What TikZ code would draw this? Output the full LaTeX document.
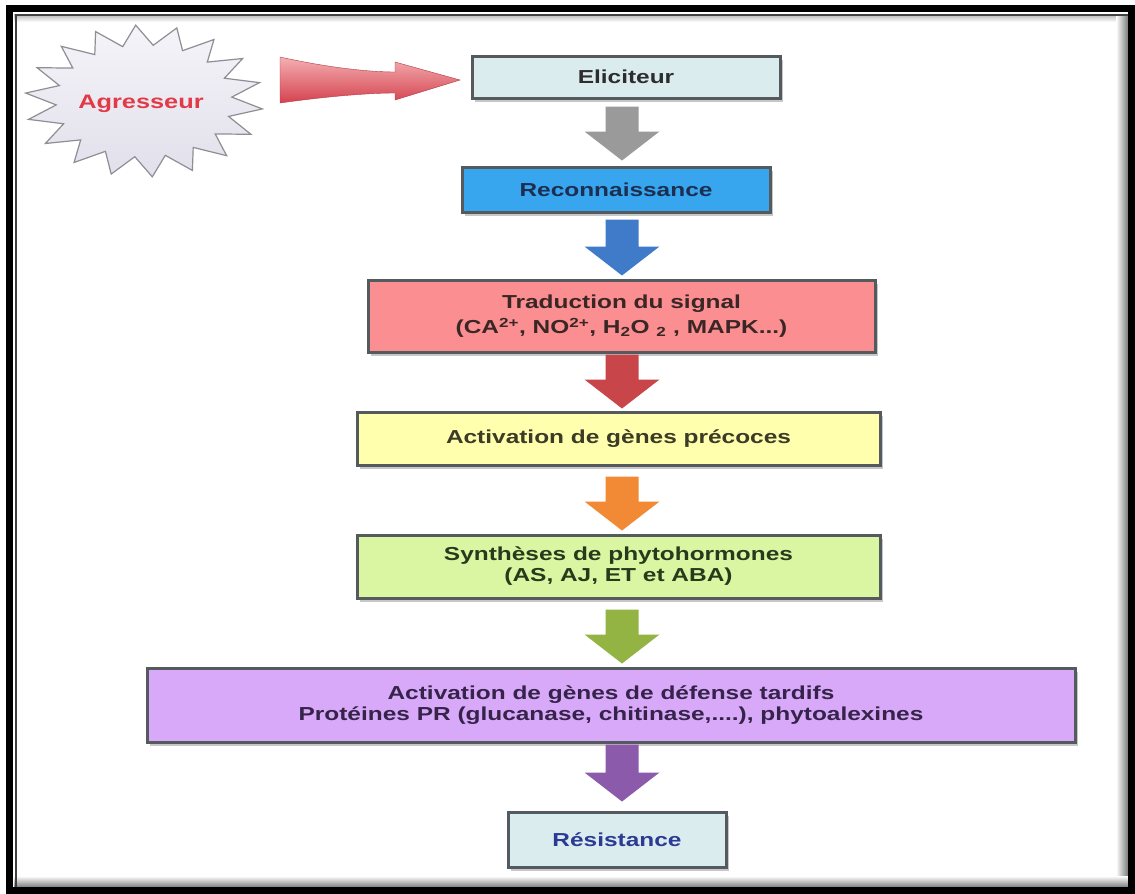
\documentclass[tikz,border=0pt]{standalone}
\usepackage{fontspec}
\setmainfont{Liberation Sans}[FakeStretch=1.3]
\usetikzlibrary{calc,shadows}
\definecolor{boxline}{HTML}{555A5F}
\definecolor{elicfill}{HTML}{DBECEF}
\definecolor{recfill}{HTML}{37A6EE}
\definecolor{tradfill}{HTML}{FA8E90}
\definecolor{yelfill}{HTML}{FFFFAE}
\definecolor{grnfill}{HTML}{DBF6A2}
\definecolor{purfill}{HTML}{D9A9F9}
\definecolor{txtdark}{HTML}{2D2D2D}
\definecolor{txtnavy}{HTML}{1C2F52}
\definecolor{txtred}{HTML}{3B2626}
\definecolor{txtyel}{HTML}{3B3B26}
\definecolor{txtgrn}{HTML}{263B1C}
\definecolor{txtpur}{HTML}{35234A}
\definecolor{txtres}{HTML}{2B3B93}
\definecolor{agred}{HTML}{E33A48}
\definecolor{arrgray}{HTML}{9A9A9A}
\definecolor{arrblue}{HTML}{3F7BC9}
\definecolor{arrred}{HTML}{C8464A}
\definecolor{arrorange}{HTML}{F28A35}
\definecolor{arrgreen}{HTML}{93B443}
\definecolor{arrpurple}{HTML}{8C5AAB}
\definecolor{pinklight}{HTML}{F4AFB2}
\definecolor{pinkdark}{HTML}{D4424F}
\definecolor{starline}{HTML}{8E8E94}
\definecolor{startop}{HTML}{F5F4F9}
\definecolor{starbot}{HTML}{E1E0EB}
\newcommand\blockarrow[5]{%
  \fill[#1] ($(#2.south -| ax)+(-16.5,#4)$)
    -- ($(#3.north -| ax)+(-16.5,-#5-29)$)
    -- ($(#3.north -| ax)+(-37.5,-#5-29)$)
    -- ($(#3.north -| ax)+(0,-#5)$)
    -- ($(#3.north -| ax)+(37.5,-#5-29)$)
    -- ($(#3.north -| ax)+(16.5,-#5-29)$)
    -- ($(#2.south -| ax)+(16.5,#4)$) -- cycle;}
\begin{document}
\begin{tikzpicture}[x=1pt,y=-1pt,
  box/.style={draw=boxline, line width=3pt, inner sep=0pt, align=center,
    font=\bfseries\fontsize{18.8}{24}\selectfont,
    drop shadow={shadow xshift=3pt, shadow yshift=-4pt, fill=black, opacity=0.22}},
  agstar/.style={draw=starline, line width=1.2pt, top color=startop, bottom color=starbot},
  redarrow/.style={top color=pinklight, bottom color=pinkdark, draw=pinkdark!85!black, line width=0.4pt}]
\useasboundingbox (0,0) rectangle (1135,894);
\fill[white] (0,0) rectangle (1135,894);
% inner shadows of the frame
\shade[top color=black!30, bottom color=white] (14,14) rectangle (1130,22);
\shade[left color=white, right color=black!60] (1116,14) rectangle (1130,888);
\shade[top color=white, bottom color=black!55] (14,876) rectangle (1130,888);
% frame
\draw[black, line width=7pt] (9.5,8.5) rectangle (1131.5,890.5);
\draw[black!75, line width=2pt] (15.5,887) -- (15.5,14.5) -- (1128,14.5);
\coordinate (ax) at (622,0);
% star
\draw[agstar] plot[samples at={0,...,35}, variable=\i]
  ({144+ifthenelse(mod(\i,2)==0,119,88)*cos(\i*10+6)},
   {101+ifthenelse(mod(\i,2)==0,76,56)*sin(\i*10+6)}) -- cycle;
\node[font=\bfseries\fontsize{19.5}{24}\selectfont, text=agred] (agr) at (141,104) {Agresseur};
% boxes
\node[box, fill=elicfill, text=txtdark, minimum width=308pt, minimum height=42pt] (elic) at (626,77) {Eliciteur};
\node[box, fill=recfill, text=txtnavy, minimum width=308pt, minimum height=45pt] (rec) at (616,189.5) {Reconnaissance};
\node[box, fill=tradfill, text=txtred, minimum width=507pt, minimum height=72pt,
  font=\bfseries\fontsize{18.8}{25}\selectfont] (trad) at (621.5,316)
  {Traduction du signal\\(CA\textsuperscript{2+}, NO\textsuperscript{2+}, H\textsubscript{2}O \textsubscript{2} , MAPK...)};
\node[box, fill=yelfill, text=txtyel, minimum width=523pt, minimum height=53pt] (prec) at (618.5,438.5) {Activation de gènes précoces};
\node[box, fill=grnfill, text=txtgrn, minimum width=523pt, minimum height=63pt,
  font=\bfseries\fontsize{18.8}{21}\selectfont] (synth) at (618.5,566.5)
  {Synthèses de phytohormones\\(AS, AJ, ET et ABA)};
\node[box, fill=purfill, text=txtpur, minimum width=928pt, minimum height=74pt,
  font=\bfseries\fontsize{18.8}{21.5}\selectfont] (tard) at (611,705)
  {Activation de gènes de défense tardifs\\Protéines PR (glucanase, chitinase,....), phytoalexines};
\node[box, fill=elicfill, text=txtres, minimum width=218pt, minimum height=55pt] (res) at (617,839.5) {Résistance};
% red entry arrow
\coordinate (rt) at (280,80);
\begin{scope}[shift={(rt)}]
\shade[redarrow] (0,-23) .. controls (50,-12) and (90,-8) .. (115,-8)
  -- (115,-18) -- (180,0) -- (115,20) -- (115,13)
  .. controls (90,13) and (50,16) .. (0,23) -- cycle;
\end{scope}
% block arrows
\blockarrow{arrgray}{elic}{rec}{7}{5}
\blockarrow{arrblue}{rec}{trad}{6}{3}
\blockarrow{arrred}{trad}{prec}{1}{2}
\blockarrow{arrorange}{prec}{synth}{10}{3}
\blockarrow{arrgreen}{synth}{tard}{10}{3}
\blockarrow{arrpurple}{tard}{res}{1}{9}
\end{tikzpicture}
\end{document}
